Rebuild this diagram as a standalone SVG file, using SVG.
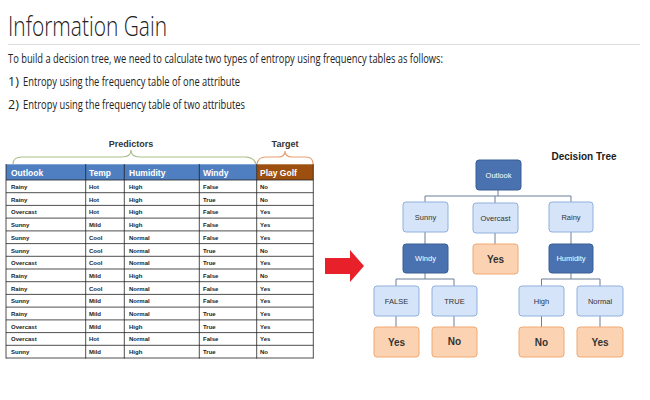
<svg xmlns="http://www.w3.org/2000/svg" width="650" height="400" viewBox="0 0 650 400">
<style>
.t{font-family:"Open Sans","Liberation Sans",sans-serif;fill:#222}
.c{font-family:"Liberation Sans",Arial,sans-serif;font-size:6px;font-weight:bold;fill:#222}
.h{font-family:"Liberation Sans",Arial,sans-serif;font-size:8.5px;font-weight:bold;fill:#fff}
.g line{stroke:#222;stroke-width:0.8}
.dk{fill:#4a72b0;stroke:#3a5f95;stroke-width:1}
.lt{fill:#d6e4fa;stroke:#8fb0dc;stroke-width:1}
.or{fill:#fbd3b2;stroke:#f0a870;stroke-width:1}
.nl{font-family:"Liberation Sans",Arial,sans-serif;font-size:7.5px;text-anchor:middle}
.lf{font-family:"Liberation Sans",Arial,sans-serif;font-size:10px;font-weight:bold;text-anchor:middle;fill:#333}
#connectors path{fill:none;stroke:#6a7f99;stroke-width:1}
</style>
<rect width="650" height="400" fill="#fff"/>
<text class="t" x="8" y="36" font-size="27" font-weight="300" textLength="159" lengthAdjust="spacingAndGlyphs">Information Gain</text>
<line x1="8" y1="44.5" x2="640" y2="44.5" stroke="#ddd"/>
<text class="t" x="8" y="63" font-size="12.5" textLength="435" lengthAdjust="spacingAndGlyphs">To build a decision tree, we need to calculate two types of entropy using frequency tables as follows:</text>
<text class="t" x="8" y="86" font-size="12.5" lengthAdjust="spacingAndGlyphs"><tspan x="8">1)</tspan><tspan x="23" textLength="217" lengthAdjust="spacingAndGlyphs">Entropy using the frequency table of one attribute</tspan></text>
<text class="t" x="8" y="109" font-size="12.5"><tspan x="8">2)</tspan><tspan x="23" textLength="222" lengthAdjust="spacingAndGlyphs">Entropy using the frequency table of two attributes</tspan></text>

<g id="table">
<text x="131" y="147" font-family="Liberation Sans,Arial,sans-serif" font-size="9" font-weight="bold" fill="#333" text-anchor="middle">Predictors</text>
<text x="285" y="147" font-family="Liberation Sans,Arial,sans-serif" font-size="9" font-weight="bold" fill="#333" text-anchor="middle">Target</text>
<path d="M13,164 Q13,157 22,157 L122,157 Q131,157 131,150 Q131,157 140,157 L245,157 Q254,157 256,164" fill="none" stroke="#a9c08a" stroke-width="1.2"/>
<path d="M257,164 Q258,157 266,157 L278,157 Q285,157 285,151 Q285,157 292,157 L306,157 Q313,157 313,164" fill="none" stroke="#e8a070" stroke-width="1.2"/>
<rect x="6" y="164.3" width="250.7" height="15.7" fill="#4f7fc0"/>
<rect x="256.7" y="164.3" width="56.6" height="15.7" fill="#9c4f0e"/>
<text class="h" x="11" y="175.5">Outlook</text>
<text class="h" x="89" y="175.5">Temp</text>
<text class="h" x="129" y="175.5">Humidity</text>
<text class="h" x="203" y="175.5">Windy</text>
<text class="h" x="260" y="175.5">Play Golf</text>
<g class="g">
<line x1="85.7" y1="164" x2="85.7" y2="358.5"/><line x1="124.3" y1="164" x2="124.3" y2="358.5"/>
<line x1="199.3" y1="164" x2="199.3" y2="358.5"/><line x1="256.7" y1="164" x2="256.7" y2="358.5"/>
<line x1="6" y1="164" x2="6" y2="358.5"/><line x1="313.3" y1="164" x2="313.3" y2="358.5"/>
<line x1="6" y1="180" x2="313.3" y2="180"/><line x1="6" y1="192.7" x2="313.3" y2="192.7"/>
<line x1="6" y1="205.4" x2="313.3" y2="205.4"/><line x1="6" y1="218.1" x2="313.3" y2="218.1"/>
<line x1="6" y1="230.9" x2="313.3" y2="230.9"/><line x1="6" y1="243.6" x2="313.3" y2="243.6"/>
<line x1="6" y1="256.3" x2="313.3" y2="256.3"/><line x1="6" y1="269" x2="313.3" y2="269"/>
<line x1="6" y1="281.7" x2="313.3" y2="281.7"/><line x1="6" y1="294.4" x2="313.3" y2="294.4"/>
<line x1="6" y1="307.1" x2="313.3" y2="307.1"/><line x1="6" y1="319.9" x2="313.3" y2="319.9"/>
<line x1="6" y1="332.6" x2="313.3" y2="332.6"/><line x1="6" y1="345.3" x2="313.3" y2="345.3"/>
<line x1="6" y1="358" x2="313.3" y2="358"/>
</g>
<g class="c">
<text y="189"><tspan x="11">Rainy</tspan><tspan x="89">Hot</tspan><tspan x="129">High</tspan><tspan x="203">False</tspan><tspan x="260">No</tspan></text>
<text y="201.7"><tspan x="11">Rainy</tspan><tspan x="89">Hot</tspan><tspan x="129">High</tspan><tspan x="203">True</tspan><tspan x="260">No</tspan></text>
<text y="214.4"><tspan x="11">Overcast</tspan><tspan x="89">Hot</tspan><tspan x="129">High</tspan><tspan x="203">False</tspan><tspan x="260">Yes</tspan></text>
<text y="227.1"><tspan x="11">Sunny</tspan><tspan x="89">Mild</tspan><tspan x="129">High</tspan><tspan x="203">False</tspan><tspan x="260">Yes</tspan></text>
<text y="239.8"><tspan x="11">Sunny</tspan><tspan x="89">Cool</tspan><tspan x="129">Normal</tspan><tspan x="203">False</tspan><tspan x="260">Yes</tspan></text>
<text y="252.5"><tspan x="11">Sunny</tspan><tspan x="89">Cool</tspan><tspan x="129">Normal</tspan><tspan x="203">True</tspan><tspan x="260">No</tspan></text>
<text y="265.2"><tspan x="11">Overcast</tspan><tspan x="89">Cool</tspan><tspan x="129">Normal</tspan><tspan x="203">True</tspan><tspan x="260">Yes</tspan></text>
<text y="277.9"><tspan x="11">Rainy</tspan><tspan x="89">Mild</tspan><tspan x="129">High</tspan><tspan x="203">False</tspan><tspan x="260">No</tspan></text>
<text y="290.6"><tspan x="11">Rainy</tspan><tspan x="89">Cool</tspan><tspan x="129">Normal</tspan><tspan x="203">False</tspan><tspan x="260">Yes</tspan></text>
<text y="303.3"><tspan x="11">Sunny</tspan><tspan x="89">Mild</tspan><tspan x="129">Normal</tspan><tspan x="203">False</tspan><tspan x="260">Yes</tspan></text>
<text y="316"><tspan x="11">Rainy</tspan><tspan x="89">Mild</tspan><tspan x="129">Normal</tspan><tspan x="203">True</tspan><tspan x="260">Yes</tspan></text>
<text y="328.7"><tspan x="11">Overcast</tspan><tspan x="89">Mild</tspan><tspan x="129">High</tspan><tspan x="203">True</tspan><tspan x="260">Yes</tspan></text>
<text y="341.4"><tspan x="11">Overcast</tspan><tspan x="89">Hot</tspan><tspan x="129">Normal</tspan><tspan x="203">False</tspan><tspan x="260">Yes</tspan></text>
<text y="354.1"><tspan x="11">Sunny</tspan><tspan x="89">Mild</tspan><tspan x="129">High</tspan><tspan x="203">True</tspan><tspan x="260">No</tspan></text>
</g>
</g>

<polygon id="arrow" points="325,258 350,258 350,250 364,266 350,282 350,274 325,274" fill="#e8202a"/>

<text x="584" y="160" font-family="Liberation Sans,Arial,sans-serif" font-size="10" font-weight="bold" fill="#222" text-anchor="middle">Decision Tree</text>

<g id="connectors">
<path d="M498,190 V196 M425,202 V196 H571 V202 M495,196 V203"/>
<path d="M425,232 V244 M495,233 V244 M571,232 V244"/>
<path d="M425,273 V279 M396,286 V279 H454 V286"/>
<path d="M571,273 V279 M541.5,286 V279 H600 V286"/>
<path d="M396,316 V327 M454,316 V327 M541.5,316 V327 M600,316 V327"/>
</g>

<g id="n-outlook"><rect class="dk" x="476" y="160" width="45" height="30" rx="3"/><text class="nl" x="498.5" y="177.5" fill="#fff">Outlook</text></g>
<g id="n-sunny"><rect class="lt" x="403" y="202" width="45" height="30" rx="3"/><text class="nl" x="425.5" y="219.5" fill="#333">Sunny</text></g>
<g id="n-overcast"><rect class="lt" x="473" y="203" width="45" height="30" rx="3"/><text class="nl" x="495.5" y="220.5" fill="#333">Overcast</text></g>
<g id="n-rainy"><rect class="lt" x="549" y="202" width="44" height="30" rx="3"/><text class="nl" x="571" y="219.5" fill="#333">Rainy</text></g>
<g id="n-windy"><rect class="dk" x="403" y="244" width="45" height="29" rx="3"/><text class="nl" x="425.5" y="261" fill="#fff">Windy</text></g>
<g id="n-yes1"><rect class="or" x="473" y="244" width="45" height="30" rx="3"/><text class="lf" x="495.5" y="262.5">Yes</text></g>
<g id="n-humidity"><rect class="dk" x="549" y="244" width="44" height="29" rx="3"/><text class="nl" x="571" y="261" fill="#fff">Humidity</text></g>
<g id="n-false"><rect class="lt" x="374" y="286" width="45" height="30" rx="3"/><text class="nl" x="396.5" y="303.5" fill="#333">FALSE</text></g>
<g id="n-true"><rect class="lt" x="432" y="286" width="45" height="30" rx="3"/><text class="nl" x="454.5" y="303.5" fill="#333">TRUE</text></g>
<g id="n-high"><rect class="lt" x="519" y="286" width="45" height="30" rx="3"/><text class="nl" x="541.5" y="303.5" fill="#333">High</text></g>
<g id="n-normal"><rect class="lt" x="577" y="286" width="46" height="30" rx="3"/><text class="nl" x="600" y="303.5" fill="#333">Normal</text></g>
<g id="n-yes2"><rect class="or" x="374" y="327" width="45" height="30" rx="3"/><text class="lf" x="396.5" y="346">Yes</text></g>
<g id="n-no1"><rect class="or" x="432" y="327" width="45" height="30" rx="3"/><text class="lf" x="454.5" y="345">No</text></g>
<g id="n-no2"><rect class="or" x="519" y="327" width="45" height="30" rx="3"/><text class="lf" x="541.5" y="346">No</text></g>
<g id="n-yes3"><rect class="or" x="577" y="327" width="46" height="30" rx="3"/><text class="lf" x="600" y="346">Yes</text></g>
</svg>
